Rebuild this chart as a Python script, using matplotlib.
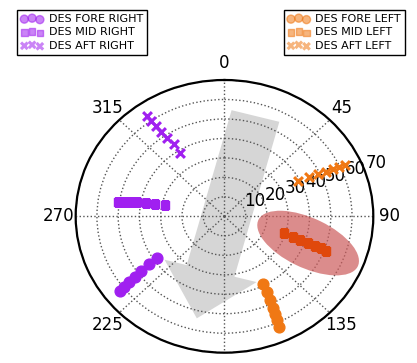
import numpy as np
import matplotlib
matplotlib.use("Agg")
import matplotlib.pyplot as plt
from matplotlib.patches import FancyArrow, Ellipse

# Measured positions: angle in degrees (clockwise from north), radius
fore_right_theta = [235.8, 235.5, 234.6, 233.6, 233.1, 232.6, 232.0]
fore_right_r = [38.2, 43.3, 48.0, 52.1, 56.4, 59.5, 62.2]
mid_right_theta = [278.6, 279.2, 279.5, 280.0, 280.5, 281.0, 281.6]
mid_right_r = [50.7, 47.5, 44.9, 41.8, 37.4, 33.3, 28.6]
aft_right_theta = [324.6, 324.9, 325.3, 325.7, 326.4, 327.1, 327.2]
aft_right_r = [62.9, 59.8, 56.4, 52.7, 48.6, 44.0, 38.8]

fore_left_theta = [152.6, 152.6, 153.4, 154.3, 154.6, 155.1, 155.7]
fore_left_r = [39.1, 43.8, 48.3, 52.3, 55.6, 58.6, 62.1]
mid_left_theta = [107.0, 108.1, 108.7, 109.0, 109.7, 109.8, 110.6]
mid_left_r = [29.5, 33.8, 37.7, 41.4, 45.0, 48.1, 51.0]
aft_left_theta = [61.9, 62.7, 63.5, 64.3, 64.5, 64.8, 65.0]
aft_left_r = [39.0, 44.5, 48.9, 53.0, 56.3, 59.3, 62.7]

theta_ticks = [0, 45, 90, 135, 180, 225, 270, 315]
theta_labels = ["0", "45", "90", "135", "", "225", "270", "315"]
r_ticks = [10, 20, 30, 40, 50, 60, 70]

purple = "#a020f0"
orange = "#f07814"
red_orange = "#e0480c"

fig = plt.figure(figsize=(4.17, 3.63), dpi=100)
ax = fig.add_axes([0.1815, 0.0284, 0.7137, 0.7512], projection="polar")
ax.set_aspect("auto")
ax.set_theta_zero_location("N")
ax.set_theta_direction(-1)
ax.set_ylim(0, 70)
ax.set_yticks(r_ticks)
ax.set_yticklabels([str(v) for v in r_ticks], fontsize=12)
ax.set_rlabel_position(71)
ax.set_xticks(np.deg2rad(theta_ticks))
ax.set_xticklabels(theta_labels, fontsize=12)
ax.tick_params(axis="x", pad=1.5)
ax.grid(True, linestyle=":", color="#555555", linewidth=1.0)
ax.spines["polar"].set_linewidth(1.6)

# wind direction arrow and highlighted region
arrow = FancyArrow(0.604, 0.868, -0.197, -0.742, width=0.166, head_width=0.32,
                   head_length=0.18, length_includes_head=True,
                   transform=ax.transAxes, color="#d6d6d6", zorder=0.5,
                   linewidth=0)
ax.add_patch(arrow)

def plot_series(theta, r, marker, color, size, label, lw=None):
    return ax.scatter(np.deg2rad(theta), r, marker=marker, c=color, s=size,
                      label=label, linewidths=lw, zorder=3)

h_fr = plot_series(fore_right_theta, fore_right_r, "o", purple, 60, "DES FORE RIGHT")
h_mr = plot_series(mid_right_theta, mid_right_r, "s", purple, 38, "DES MID RIGHT")
h_ar = plot_series(aft_right_theta, aft_right_r, "x", purple, 40, "DES AFT RIGHT", lw=2.2)
h_fl = plot_series(fore_left_theta, fore_left_r, "o", orange, 60, "DES FORE LEFT")
h_ml = plot_series(mid_left_theta, mid_left_r, "s", red_orange, 38, "DES MID LEFT")
h_al = plot_series(aft_left_theta, aft_left_r, "x", orange, 40, "DES AFT LEFT", lw=2.2)

ell = Ellipse((0.781, 0.402), 0.375, 0.18, angle=-28, transform=ax.transAxes,
              facecolor="#cd5c5c", alpha=0.7, edgecolor="none", zorder=2)
ax.add_patch(ell)

leg_kw = dict(fontsize=8, scatterpoints=3, markerscale=0.75, fancybox=False,
              edgecolor="black", framealpha=1, bbox_transform=fig.transFigure,
              borderaxespad=0, handletextpad=0.5, labelspacing=0.3,
              borderpad=0.35)
leg1 = ax.legend(handles=[h_fr, h_mr, h_ar], loc="upper left",
                 bbox_to_anchor=(0.041, 0.972), **leg_kw)
for h in leg1.legend_handles:
    h.set_alpha(0.55)
ax.add_artist(leg1)
leg2 = ax.legend(handles=[h_fl, h_ml, h_al], loc="upper right",
                 bbox_to_anchor=(0.971, 0.972), **leg_kw)
for h in leg2.legend_handles:
    h.set_alpha(0.55)
    h.set_color(orange)

fig.savefig("out.png", dpi=100)
